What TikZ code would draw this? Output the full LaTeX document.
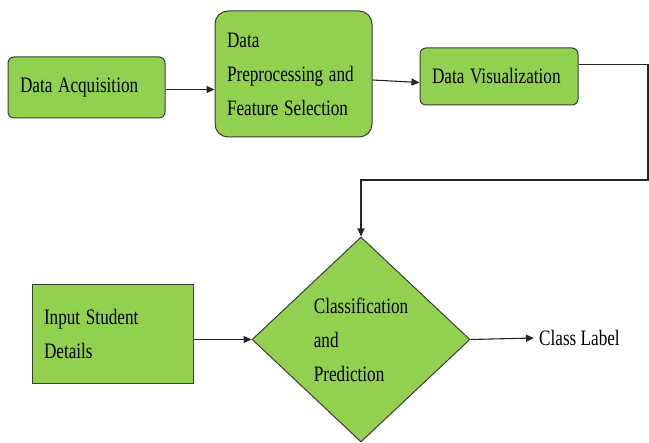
\documentclass[tikz,border=0pt]{standalone}
\usepackage{fontspec}
\setmainfont{Liberation Serif}
\newfontfamily\timesish{Liberation Serif}
\usetikzlibrary{arrows.meta,shapes.geometric,calc}
\definecolor{boxgreen}{HTML}{92D050}
\definecolor{edgegray}{HTML}{3C3C3C}
\newcommand{\sqz}[1]{\scalebox{0.78}[1]{#1}}
\begin{document}
\begin{tikzpicture}[x=1pt,y=1pt,
  txt/.style={font=\timesish\fontsize{22}{34}\selectfont},
  box/.style={txt,draw=edgegray,fill=boxgreen,line width=1pt,align=left,inner xsep=12pt,inner ysep=0pt},
  conn/.style={draw=black!85,line width=1.1pt},
  arr/.style={conn,-{Triangle[length=8pt,width=7pt]}}
]
\useasboundingbox (0,0) rectangle (649,-443);
\node[box,rounded corners=6pt,minimum width=157pt,minimum height=61pt,text width=133pt] (da) at (86.5,-87.5) {\sqz{Data Acquisition}};
\node[box,rounded corners=13pt,minimum width=157pt,minimum height=126pt,text width=133pt] (pp) at (293.5,-74) {\sqz{Data}\\\sqz{Preprocessing and}\\\sqz{Feature Selection}};
\node[box,rounded corners=6pt,minimum width=158pt,minimum height=57pt,text width=134pt] (dv) at (499,-76.5) {\sqz{Data Visualization}};
\node[box,minimum width=161pt,minimum height=99pt,text width=137pt] (isd) at (112.5,-334) {\sqz{Input Student}\\\sqz{Details}\\[6pt]};
\node[txt,diamond,draw=edgegray,fill=boxgreen,line width=1pt,inner sep=0pt,minimum width=218pt,minimum height=205pt,align=left] (cp) at (361,-339.5) {\sqz{Classification}\\\sqz{and}\\\sqz{Prediction}};
\node[txt,anchor=west,inner sep=0pt] (cl) at (539,-338) {\sqz{Class Label}};
\coordinate (dvout) at ($(dv.north east)!0.29!(dv.south east)$);
\coordinate (rc) at (648,-180);
\draw[arr] ($(da.east)+(0,-2)$) -- ($(da.east -| pp.west)+(0,-2)$);
\draw[arr] ($(pp.east)+(0,-6)$) -- ($(dv.west)+(0,-6)$);
\draw[arr] (dvout) -- (dvout -| rc) -- (rc) -- (rc -| cp.north) -- (cp.north);
\draw[arr] (isd.east |- cp.west) -- (cp.west);
\draw[arr] (cp.east) -- ($(cl.west)+(-5,0)$);
\end{tikzpicture}
\end{document}
